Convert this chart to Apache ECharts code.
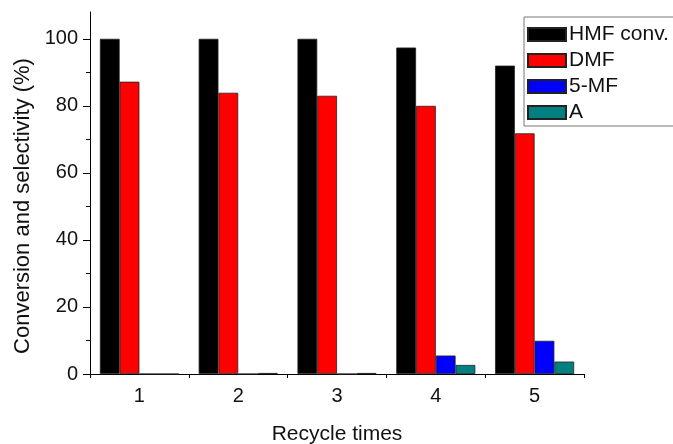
<!DOCTYPE html>
<html>
<head>
<meta charset="utf-8">
<script src="https://cdn.jsdelivr.net/npm/echarts@6/dist/echarts.min.js"></script>
<style>
html,body{margin:0;padding:0;background:#fff;}
#c{width:673px;height:444px;}
</style>
</head>
<body>
<div id="c"></div>
<script>
const categories = ['1', '2', '3', '4', '5'];
const hmfConv = [100, 100, 100, 97.4, 92.0];
const dmf = [87.2, 83.9, 83.0, 80.0, 71.8];
const mf5 = [0, 0, 0, 5.5, 9.9];
const aVals = [0, 0.3, 0.3, 2.7, 3.7];
const yMajorTicks = [0, 20, 40, 60, 80, 100];
const yMinorTicks = [10, 30, 50, 70, 90];
const seriesNames = ['HMF conv.', 'DMF', '5-MF', 'A'];
const seriesColors = ['#000000', '#ff0000', '#0000ff', '#008080'];

const FONT = 'Liberation Sans, Arial, sans-serif';
const chart = echarts.init(document.getElementById('c'));
const dataList = [hmfConv, dmf, mf5, aVals];

chart.setOption({
  animation: false,
  backgroundColor: '#fff',
  grid: { left: 90, right: 89, top: 12, bottom: 70, containLabel: false, outerBoundsMode: 'none' },
  legend: {
    orient: 'vertical',
    left: 524,
    top: 17,
    icon: 'rect',
    itemWidth: 38,
    itemHeight: 13,
    itemGap: 5,
    padding: [7, 40, 3, 3],
    borderColor: '#777',
    borderWidth: 1,
    backgroundColor: '#fff',
    textStyle: { fontFamily: FONT, fontSize: 21, color: '#111', padding: [0, 0, 0, -2] },
    data: seriesNames
  },
  xAxis: [
    {
      type: 'category',
      data: categories,
      boundaryGap: true,
      name: 'Recycle times',
      nameLocation: 'middle',
      nameGap: 50,
      nameTextStyle: { fontFamily: FONT, fontSize: 21, color: '#111' },
      axisLine: { lineStyle: { color: '#000', width: 1 } },
      axisTick: { alignWithLabel: true, length: 7, lineStyle: { color: '#000' } },
      axisLabel: { fontFamily: FONT, fontSize: 20, color: '#111', margin: 12 },
      splitLine: { show: false }
    },
    {
      type: 'category',
      data: categories,
      position: 'bottom',
      boundaryGap: true,
      axisLine: { show: false },
      axisTick: { show: true, length: 4, lineStyle: { color: '#000' } },
      axisLabel: { show: false },
      splitLine: { show: false }
    }
  ],
  yAxis: [
    {
      type: 'value',
      min: 0,
      max: 108,
      interval: 20,
      name: 'Conversion and selectivity (%)',
      nameLocation: 'middle',
      nameGap: 55,
      nameTextStyle: { fontFamily: FONT, fontSize: 22, color: '#111', padding: [0, 26, 0, 0] },
      axisLine: { show: true, lineStyle: { color: '#000', width: 1 } },
      axisTick: { show: true, length: 7, customValues: yMajorTicks, lineStyle: { color: '#000' } },
      axisLabel: { fontFamily: FONT, fontSize: 20, color: '#111', margin: 12, customValues: yMajorTicks },
      splitLine: { show: false }
    },
    {
      type: 'value',
      min: 0,
      max: 108,
      position: 'left',
      axisLine: { show: false },
      axisTick: { show: true, length: 4, customValues: yMinorTicks, lineStyle: { color: '#000' } },
      axisLabel: { show: false, customValues: yMinorTicks },
      splitLine: { show: false }
    }
  ],
  series: seriesNames.map((n, i) => ({
    name: n,
    type: 'bar',
    xAxisIndex: 0,
    yAxisIndex: 0,
    data: dataList[i],
    barCategoryGap: '20%',
    barGap: '0%',
    itemStyle: { color: seriesColors[i], borderColor: '#222', borderWidth: 0.8 }
  }))
});
</script>
</body>
</html>
